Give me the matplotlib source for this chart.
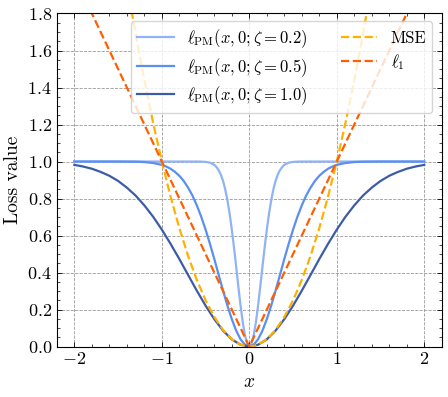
import matplotlib
matplotlib.use("Agg")
import matplotlib.pyplot as plt
from matplotlib.ticker import AutoMinorLocator, MultipleLocator

plt.rcParams.update({
    "font.family": "serif",
    "font.serif": ["cmr10"],
    "mathtext.fontset": "cm",
    "axes.formatter.use_mathtext": True,
    "font.size": 13,
    "axes.unicode_minus": True,
})

# --- data ---
x_grid = [-2.0, -1.9, -1.8, -1.7, -1.6, -1.5, -1.4, -1.3, -1.2, -1.1, -1.0,
          -0.9, -0.8, -0.7, -0.6, -0.5, -0.4, -0.3, -0.2, -0.1, 0.0,
          0.1, 0.2, 0.3, 0.4, 0.5, 0.6, 0.7, 0.8, 0.9, 1.0,
          1.1, 1.2, 1.3, 1.4, 1.5, 1.6, 1.7, 1.8, 1.9, 2.0]

pm_zeta10 = [0.982, 0.973, 0.961, 0.944, 0.923, 0.895, 0.859, 0.816, 0.763, 0.702, 0.632,
             0.555, 0.473, 0.387, 0.302, 0.221, 0.148, 0.086, 0.039, 0.010, 0.0,
             0.010, 0.039, 0.086, 0.148, 0.221, 0.302, 0.387, 0.473, 0.555, 0.632,
             0.702, 0.763, 0.816, 0.859, 0.895, 0.923, 0.944, 0.961, 0.973, 0.982]

x_mid = [-2.0, -1.5, -1.3, -1.2, -1.1, -1.0, -0.95, -0.9, -0.85, -0.8, -0.75, -0.7,
         -0.65, -0.6, -0.55, -0.5, -0.45, -0.4, -0.35, -0.3, -0.25, -0.2, -0.15,
         -0.1, -0.05, 0.0, 0.05, 0.1, 0.15, 0.2, 0.25, 0.3, 0.35, 0.4, 0.45, 0.5,
         0.55, 0.6, 0.65, 0.7, 0.75, 0.8, 0.85, 0.9, 0.95, 1.0, 1.1, 1.2, 1.3, 1.5, 2.0]
pm_zeta05 = [1.0, 1.0, 0.999, 0.997, 0.992, 0.982, 0.973, 0.961, 0.944, 0.923, 0.895, 0.859,
             0.816, 0.763, 0.702, 0.632, 0.555, 0.473, 0.387, 0.302, 0.221, 0.148, 0.086,
             0.039, 0.010, 0.0, 0.010, 0.039, 0.086, 0.148, 0.221, 0.302, 0.387, 0.473, 0.555, 0.632,
             0.702, 0.763, 0.816, 0.859, 0.895, 0.923, 0.944, 0.961, 0.973, 0.982, 0.992, 0.997, 0.999, 1.0, 1.0]

mse_vals = [4.0, 3.61, 3.24, 2.89, 2.56, 2.25, 1.96, 1.69, 1.44, 1.21, 1.0,
            0.81, 0.64, 0.49, 0.36, 0.25, 0.16, 0.09, 0.04, 0.01, 0.0,
            0.01, 0.04, 0.09, 0.16, 0.25, 0.36, 0.49, 0.64, 0.81, 1.0,
            1.21, 1.44, 1.69, 1.96, 2.25, 2.56, 2.89, 3.24, 3.61, 4.0]

x_fine = [-2.0, -1.0, -0.8, -0.6, -0.55, -0.5, -0.45, -0.4, -0.375, -0.35, -0.325, -0.3,
          -0.275, -0.25, -0.225, -0.2, -0.175, -0.15, -0.125, -0.1, -0.075, -0.05, -0.025,
          0.0, 0.025, 0.05, 0.075, 0.1, 0.125, 0.15, 0.175, 0.2, 0.225, 0.25, 0.275, 0.3,
          0.325, 0.35, 0.375, 0.4, 0.45, 0.5, 0.55, 0.6, 0.8, 1.0, 2.0]
pm_zeta02 = [1.0, 1.0, 1.0, 1.0, 0.9995, 0.998, 0.994, 0.982, 0.970, 0.953, 0.929, 0.895,
             0.849, 0.790, 0.718, 0.632, 0.535, 0.430, 0.323, 0.221, 0.131, 0.061, 0.016,
             0.0, 0.016, 0.061, 0.131, 0.221, 0.323, 0.430, 0.535, 0.632, 0.718, 0.790, 0.849, 0.895,
             0.929, 0.953, 0.970, 0.982, 0.994, 0.998, 0.9995, 1.0, 1.0, 1.0, 1.0]

x_l1 = [-2.0, 0.0, 2.0]
l1_vals = [2.0, 0.0, 2.0]

labels = [r"$\ell_{\mathrm{PM}}(x,0;\zeta=0.2)$",
          r"$\ell_{\mathrm{PM}}(x,0;\zeta=0.5)$",
          r"$\ell_{\mathrm{PM}}(x,0;\zeta=1.0)$",
          "MSE", r"$\ell_1$"]

c02, c05, c10 = "#8fb3f7", "#5b8ff2", "#3d5ca8"
c_mse, c_l1 = "#ffb000", "#ff5f00"

fig = plt.figure(figsize=(4.48, 3.97), dpi=100)
ax = fig.add_axes([0.127, 0.127, 0.859, 0.839])

lw = 1.6
ax.plot(x_fine, pm_zeta02, color=c02, lw=lw, label=labels[0])
ax.plot(x_mid, pm_zeta05, color=c05, lw=lw, label=labels[1])
ax.plot(x_grid, pm_zeta10, color=c10, lw=lw, label=labels[2])
ax.plot(x_grid, mse_vals, color=c_mse, lw=lw, ls=(0, (3.7, 1.6)), label=labels[3])
ax.plot(x_l1, l1_vals, color=c_l1, lw=lw, ls=(0, (3.7, 1.6)), label=labels[4])

ax.set_xlim(-2.2, 2.2)
ax.set_ylim(0, 1.8)
ax.xaxis.set_major_locator(MultipleLocator(1))
ax.yaxis.set_major_locator(MultipleLocator(0.2))
ax.xaxis.set_minor_locator(AutoMinorLocator(5))
ax.yaxis.set_minor_locator(AutoMinorLocator(4))
ax.tick_params(which="both", direction="in", top=True, right=True, labelsize=13)
ax.tick_params(which="major", length=3.5, width=0.6)
ax.tick_params(which="minor", length=2, width=0.5)
for s in ax.spines.values():
    s.set_linewidth(0.8)

ax.grid(True, which="major", ls="--", color="#999999", lw=0.6)
ax.set_axisbelow(True)

ax.set_xlabel(r"$x$", fontsize=14)
ax.set_ylabel("Loss value", fontsize=14)

ax.legend(ncol=2, loc="upper right", bbox_to_anchor=(0.975, 0.976), frameon=True,
          fancybox=True, framealpha=0.8, edgecolor="#cccccc", fontsize=12,
          handlelength=2.2, handletextpad=0.8, columnspacing=2.0,
          labelspacing=0.35, borderpad=0.35, borderaxespad=0.0)

fig.savefig("out.png", dpi=100)
